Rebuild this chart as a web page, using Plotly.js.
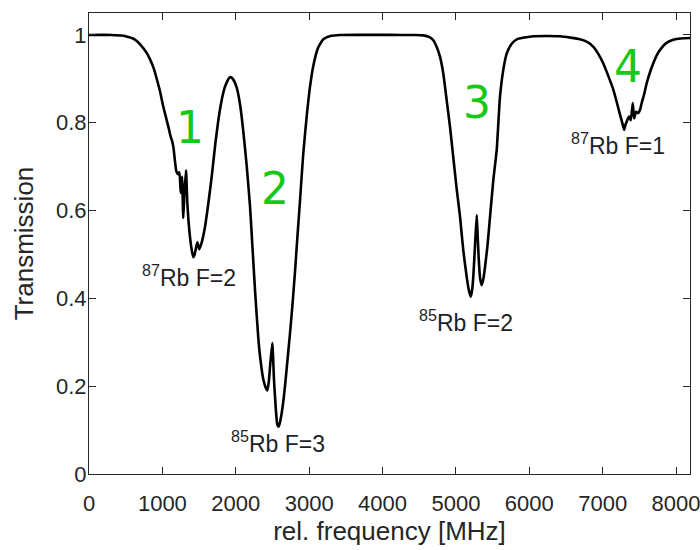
<!DOCTYPE html>
<html>
<head>
<meta charset="utf-8">
<script src="https://cdn.plot.ly/plotly-3.0.1.min.js"></script>
<style>html,body{margin:0;padding:0;background:#fff;}#chart{width:700px;height:550px;}</style>
</head>
<body>
<div id="chart"></div>
<script>
// relative frequency [MHz]
const freq = [0, 300, 470, 520, 600, 650, 700, 790, 830, 880, 920, 970, 1010, 1060, 1090, 1110, 1130, 1150, 1170, 1190, 1215, 1232, 1250, 1267, 1285, 1300, 1322, 1340, 1376, 1400, 1421, 1440, 1458, 1476, 1503, 1540, 1581, 1625, 1672, 1720, 1785, 1840, 1877, 1910, 1931, 1960, 2013, 2060, 2103, 2150, 2194, 2230, 2262, 2307, 2331, 2375, 2410, 2430, 2450, 2467, 2498, 2521, 2545, 2566, 2585, 2603, 2640, 2671, 2705, 2739, 2770, 2807, 2840, 2876, 2920, 2967, 3010, 3057, 3120, 3193, 3300, 3421, 4239, 4450, 4556, 4640, 4692, 4740, 4784, 4830, 4875, 4920, 4965, 5010, 5056, 5100, 5147, 5175, 5202, 5220, 5237, 5260, 5284, 5297, 5311, 5330, 5352, 5375, 5397, 5430, 5465, 5510, 5556, 5601, 5650, 5693, 5760, 5829, 6056, 6419, 6692, 6800, 6873, 6940, 7009, 7080, 7146, 7195, 7237, 7270, 7292, 7310, 7328, 7345, 7363, 7383, 7410, 7428, 7455, 7486, 7510, 7532, 7565, 7600, 7645, 7691, 7735, 7782, 7870, 7963, 8060, 8190];
// transmission
const transmission = [1.000, 1.000, 0.998, 0.996, 0.992, 0.986, 0.978, 0.958, 0.945, 0.925, 0.902, 0.870, 0.838, 0.805, 0.785, 0.770, 0.760, 0.745, 0.715, 0.690, 0.683, 0.687, 0.640, 0.677, 0.583, 0.640, 0.692, 0.617, 0.540, 0.510, 0.494, 0.500, 0.515, 0.528, 0.512, 0.530, 0.563, 0.615, 0.677, 0.750, 0.830, 0.875, 0.892, 0.902, 0.904, 0.900, 0.880, 0.840, 0.780, 0.700, 0.610, 0.510, 0.420, 0.310, 0.268, 0.216, 0.196, 0.190, 0.210, 0.244, 0.298, 0.214, 0.150, 0.112, 0.108, 0.118, 0.155, 0.200, 0.260, 0.320, 0.380, 0.460, 0.540, 0.624, 0.730, 0.815, 0.880, 0.930, 0.970, 0.990, 0.998, 1.000, 1.000, 1.000, 0.999, 0.995, 0.988, 0.972, 0.950, 0.910, 0.850, 0.790, 0.720, 0.650, 0.586, 0.510, 0.449, 0.420, 0.404, 0.418, 0.449, 0.520, 0.590, 0.540, 0.490, 0.445, 0.430, 0.445, 0.472, 0.520, 0.586, 0.670, 0.738, 0.860, 0.925, 0.958, 0.980, 0.990, 0.997, 0.997, 0.990, 0.983, 0.973, 0.957, 0.935, 0.905, 0.875, 0.845, 0.818, 0.798, 0.784, 0.795, 0.803, 0.810, 0.814, 0.806, 0.845, 0.810, 0.825, 0.822, 0.830, 0.845, 0.865, 0.890, 0.915, 0.936, 0.953, 0.966, 0.982, 0.989, 0.992, 0.993];

const xTicks = [0, 1000, 2000, 3000, 4000, 5000, 6000, 7000, 8000];
const xTickLabels = ['0', '1000', '2000', '3000', '4000', '5000', '6000', '7000', '8000'];
const yTicks = [0, 0.2, 0.4, 0.6, 0.8, 1];
const yTickLabels = ['0', '0.2', '0.4', '0.6', '0.8', '1'];

const peakNumbers = ['1', '2', '3', '4'];
const lineLabels = ['<sup>87</sup>Rb F=2', '<sup>85</sup>Rb F=3', '<sup>85</sup>Rb F=2', '<sup>87</sup>Rb F=1'];

const FONT = 'Liberation Sans, Arial, Helvetica, sans-serif';
const TXT = '#262626';
const GREEN = 'rgb(24,200,24)';

const numPos = [[1376, 0.79], [2535, 0.650], [5284, 0.846], [7350, 0.928]];
const labPos = [[1363, 0.452], [2576, 0.072], [5138, 0.348], [7210, 0.752]];

const annotations = [];
peakNumbers.forEach((t, i) => annotations.push({
  text: t, x: numPos[i][0], y: numPos[i][1], xref: 'x', yref: 'y',
  showarrow: false, xanchor: 'center', yanchor: 'middle',
  font: {family: 'DejaVu Sans, sans-serif', size: 44, color: GREEN}
}));
lineLabels.forEach((t, i) => annotations.push({
  text: t, x: labPos[i][0], y: labPos[i][1], xref: 'x', yref: 'y',
  showarrow: false, xanchor: 'center', yanchor: 'middle',
  font: {family: FONT, size: 23, color: '#1e1e28'}
}));

const data = [{
  x: freq, y: transmission, type: 'scatter', mode: 'lines',
  line: {color: '#000000', width: 2.6, shape: 'spline', smoothing: 0.5}, hoverinfo: 'skip'
}];

const layout = {
  width: 700, height: 550,
  margin: {l: 89, r: 10, t: 13, b: 76, pad: 0},
  paper_bgcolor: '#ffffff', plot_bgcolor: '#ffffff',
  showlegend: false,
  font: {family: FONT, size: 22, color: TXT},
  xaxis: {
    range: [0, 8190], tickvals: xTicks, ticktext: xTickLabels,
    ticks: 'inside', ticklen: 7, tickwidth: 1, tickcolor: TXT,
    showline: true, linecolor: TXT, linewidth: 1, mirror: 'ticks',
    showgrid: false, zeroline: false, ticklabelstandoff: 10,
    ticklabeloverflow: 'allow',
    tickfont: {family: FONT, size: 22, color: TXT},
    title: {text: 'rel. frequency [MHz]', font: {family: FONT, size: 26, color: TXT}, standoff: 4},
    automargin: false
  },
  yaxis: {
    range: [0, 1.05], tickvals: yTicks, ticktext: yTickLabels,
    ticks: 'inside', ticklen: 7, tickwidth: 1, tickcolor: TXT,
    showline: true, linecolor: TXT, linewidth: 1, mirror: 'ticks',
    showgrid: false, zeroline: false, ticklabelstandoff: -3,
    tickfont: {family: FONT, size: 22, color: TXT},
    title: {text: 'Transmission', font: {family: FONT, size: 26, color: TXT}, standoff: 14},
    automargin: false
  },
  annotations: annotations
};

Plotly.newPlot('chart', data, layout, {displayModeBar: false, staticPlot: true});
</script>
</body>
</html>
